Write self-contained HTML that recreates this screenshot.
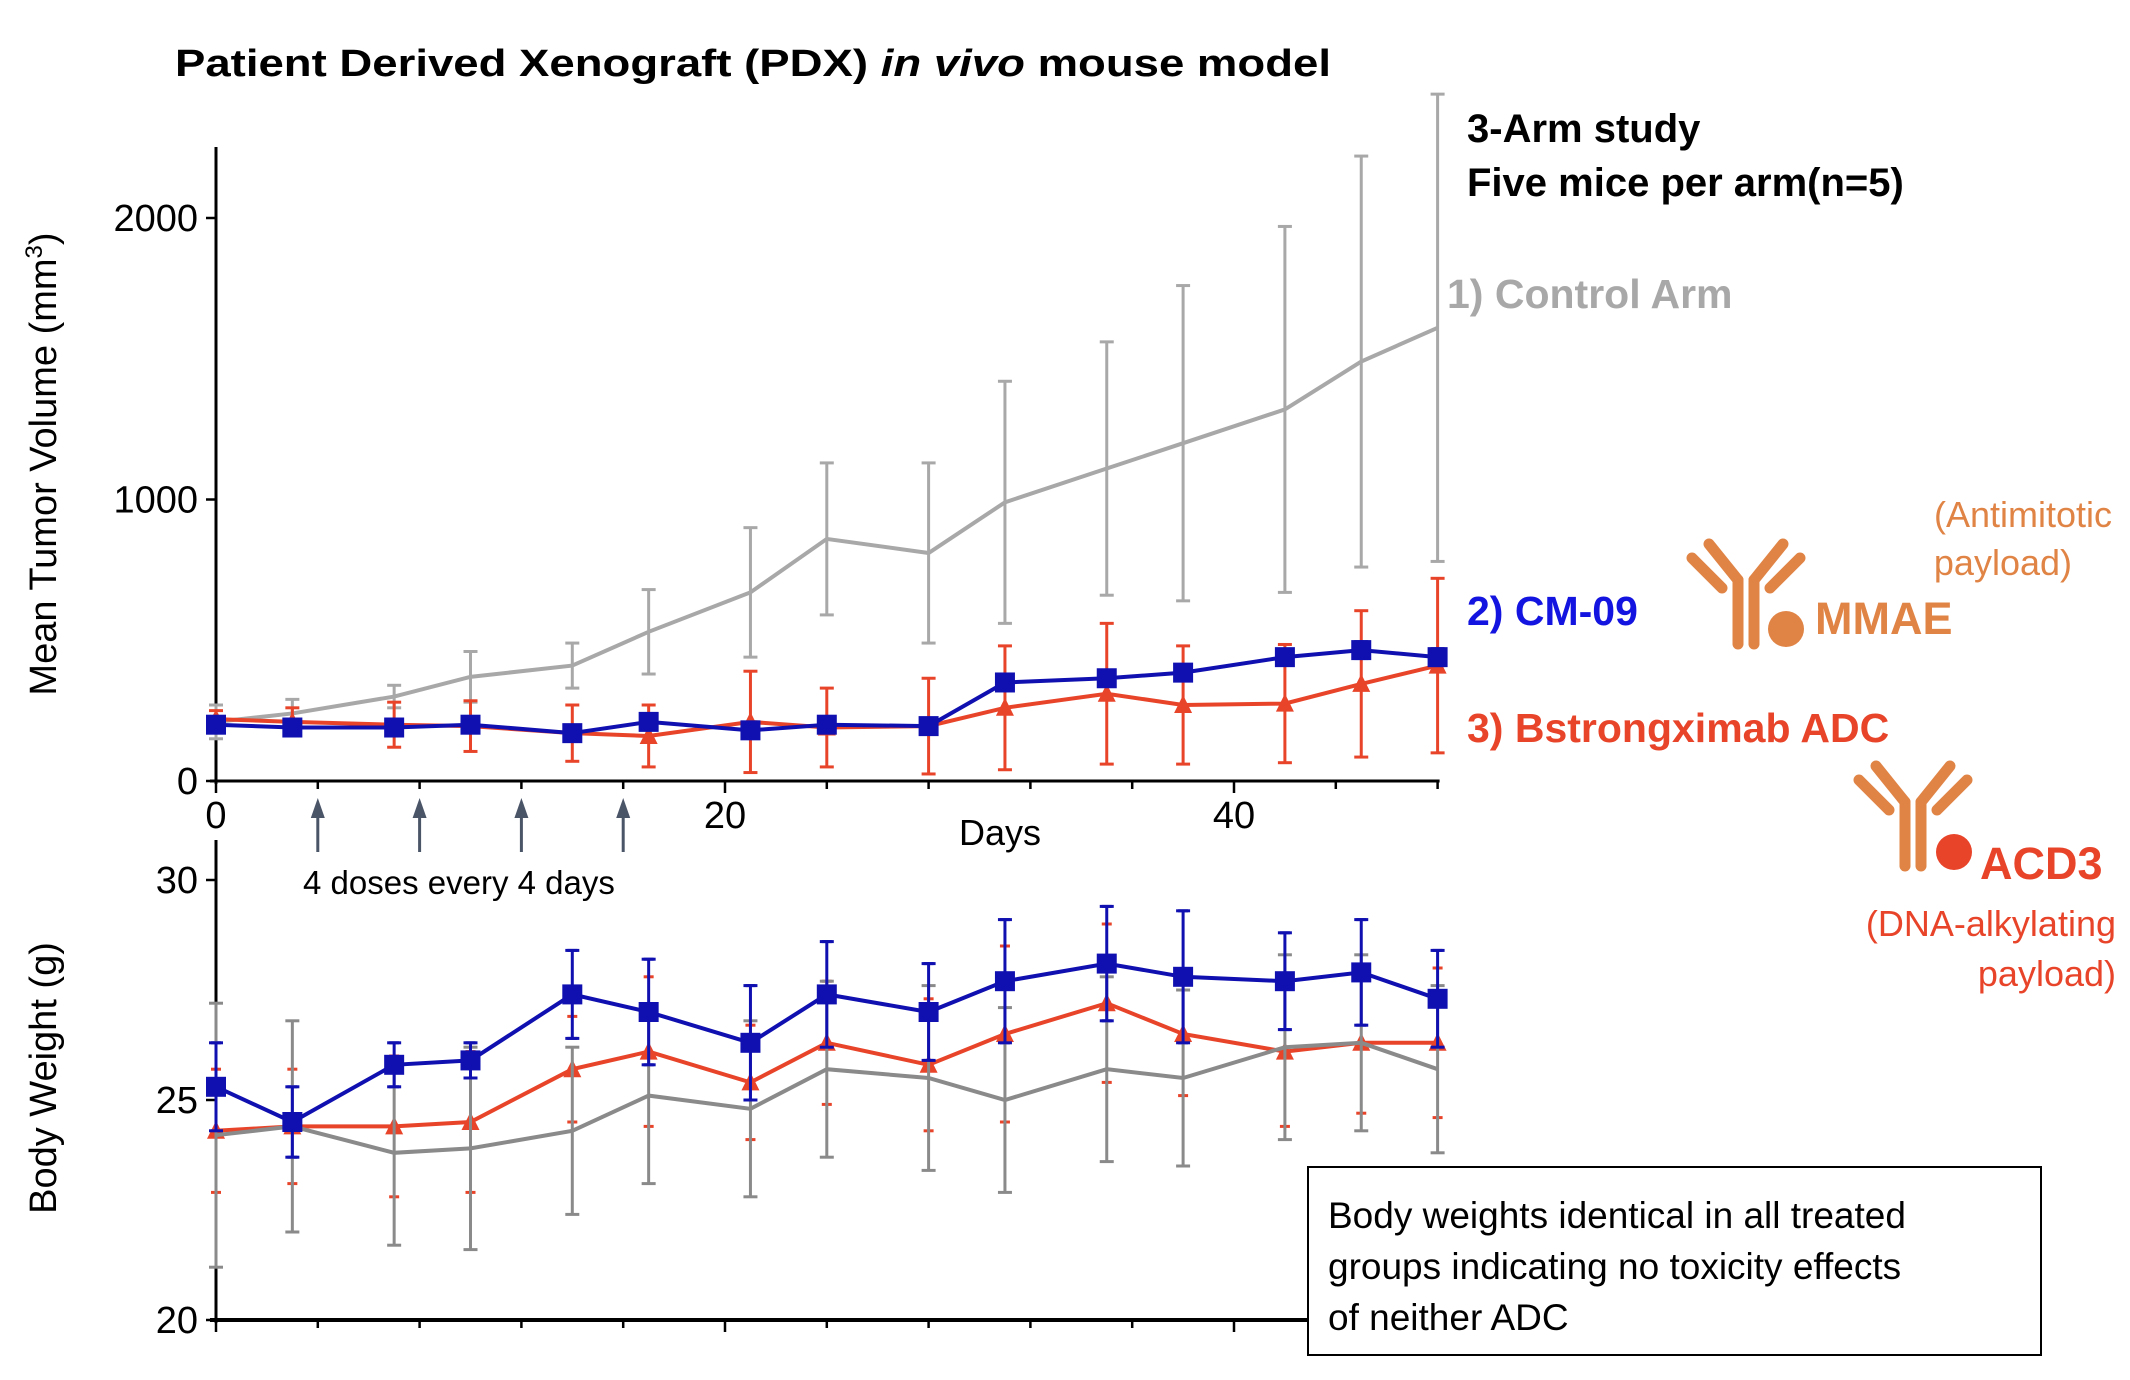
<!DOCTYPE html>
<html><head><meta charset="utf-8"><style>
html,body{margin:0;padding:0;background:#fff}
svg{display:block;font-family:"Liberation Sans",sans-serif}
</style></head><body>
<svg id="c" width="2130" height="1380" viewBox="0 0 2130 1380" xmlns="http://www.w3.org/2000/svg">
<text x="175" y="76" font-size="38" font-weight="bold" textLength="1156" lengthAdjust="spacingAndGlyphs">Patient Derived Xenograft (PDX) <tspan font-style="italic">in vivo</tspan> mouse model</text>
<text x="1467" y="142" font-size="40" font-weight="bold">3-Arm study</text>
<text x="1467" y="196" font-size="40" font-weight="bold">Five mice per arm(n=5)</text>
<text x="1447" y="308" font-size="41" font-weight="bold" fill="#a8a8a8">1) Control Arm</text>
<text x="1467" y="625" font-size="41" font-weight="bold" fill="#1414e0">2) CM-09</text>
<text x="1467" y="742" font-size="41" font-weight="bold" fill="#e8442a">3) Bstrongximab ADC</text>
<g stroke="#e08446" stroke-width="11" stroke-linecap="round" fill="none">
<line x1="1738" y1="580" x2="1738" y2="644"/><line x1="1754" y1="580" x2="1754" y2="644"/>
<line x1="1738" y1="580" x2="1709" y2="544"/><line x1="1722" y1="588" x2="1692" y2="558"/>
<line x1="1754" y1="580" x2="1783" y2="544"/><line x1="1770" y1="588" x2="1800" y2="558"/>
</g>
<circle cx="1786" cy="629" r="18" fill="#e08446"/>
<text x="1815" y="634" font-size="45" font-weight="bold" fill="#e08446">MMAE</text>
<text x="2112" y="527" font-size="36" fill="#e08446" text-anchor="end">(Antimitotic</text>
<text x="2072" y="575" font-size="36" fill="#e08446" text-anchor="end">payload)</text>
<g stroke="#e08446" stroke-width="11" stroke-linecap="round" fill="none" transform="translate(167,222)">
<line x1="1738" y1="580" x2="1738" y2="644"/><line x1="1754" y1="580" x2="1754" y2="644"/>
<line x1="1738" y1="580" x2="1709" y2="544"/><line x1="1722" y1="588" x2="1692" y2="558"/>
<line x1="1754" y1="580" x2="1783" y2="544"/><line x1="1770" y1="588" x2="1800" y2="558"/>
</g>
<circle cx="1954" cy="852" r="18" fill="#e8442a"/>
<text x="1980" y="879" font-size="45" font-weight="bold" fill="#e8442a">ACD3</text>
<text x="2116" y="936" font-size="36" fill="#e8442a" text-anchor="end">(DNA-alkylating</text>
<text x="2116" y="986" font-size="36" fill="#e8442a" text-anchor="end">payload)</text>
<rect x="1308" y="1167" width="733" height="188" fill="#fff" stroke="#000" stroke-width="2"/>
<text font-size="37"><tspan x="1328" y="1228">Body weights identical in all treated</tspan><tspan x="1328" y="1279">groups indicating no toxicity effects</tspan><tspan x="1328" y="1330">of neither ADC</tspan></text>
<text transform="translate(56,464) rotate(-90)" font-size="38" text-anchor="middle">Mean Tumor Volume (mm<tspan font-size="24" dy="-14">3</tspan><tspan dy="14">)</tspan></text>
<text transform="translate(56,1078) rotate(-90)" font-size="38" text-anchor="middle">Body Weight (g)</text>
<text x="1000" y="845" font-size="36" text-anchor="middle">Days</text>
<text x="303" y="894" font-size="33">4 doses every 4 days</text>
<g id="plot"></g>
</svg>
<script>
const days=[0,3,7,10,14,17,21,24,28,31,35,38,42,45,48];
const doseDays=[4,8,12,16];
const tumorTicks=[0,1000,2000];
const xTickLabels=[0,20,40];
const weightTicks=[20,25,30];
const tumorControl=[210,240,300,370,410,530,670,860,810,990,1110,1200,1320,1490,1610];
const tumorControlErr=[60,50,40,90,80,150,230,270,320,430,450,560,650,730,830];
const tumorCM09=[200,190,190,200,170,210,180,200,195,350,365,385,440,465,440];
const tumorCM09Err=[20,20,20,20,20,25,20,20,20,25,25,25,25,30,30];
const tumorBstr=[220,210,200,195,170,160,210,190,195,260,310,270,275,345,410];
const tumorBstrErr=[30,50,80,90,100,110,180,140,170,220,250,210,210,260,310];
const wCM09=[25.3,24.5,25.8,25.9,27.4,27.0,26.3,27.4,27.0,27.7,28.1,27.8,27.7,27.9,27.3];
const wCM09Err=[1.0,0.8,0.5,0.4,1.0,1.2,1.3,1.2,1.1,1.4,1.3,1.5,1.1,1.2,1.1];
const wBstr=[24.3,24.4,24.4,24.5,25.7,26.1,25.4,26.3,25.8,26.5,27.2,26.5,26.1,26.3,26.3];
const wBstrErr=[1.4,1.3,1.6,1.6,1.2,1.7,1.3,1.4,1.5,2.0,1.8,1.4,1.7,1.6,1.7];
const wControl=[24.2,24.4,23.8,23.9,24.3,25.1,24.8,25.7,25.5,25.0,25.7,25.5,26.2,26.3,25.7];
const wControlErr=[3.0,2.4,2.1,2.3,1.9,2.0,2.0,2.0,2.1,2.1,2.1,2.0,2.1,2.0,1.9];

const NS='http://www.w3.org/2000/svg';
const plot=document.getElementById('plot');
const X=d=>216+d*25.45;
const YT=v=>781-v*0.2815;
const YW=v=>1320-(v-20)*44;
function mk(tag,attrs,parent){const e=document.createElementNS(NS,tag);for(const k in attrs)e.setAttribute(k,attrs[k]);(parent||plot).appendChild(e);return e;}

let g=mk('g',{});


mk('line',{x1:X(0),y1:147,x2:X(0),y2:YT(0)+3,stroke:'#000','stroke-width':3},g);
mk('line',{x1:X(0)-6,y1:YT(0),x2:X(48)+2,y2:YT(0),stroke:'#000','stroke-width':3},g);
for(let d=0;d<=48;d+=4){mk('line',{x1:X(d),y1:YT(0),x2:X(d),y2:YT(0)+(d%20==0?12:8),stroke:'#000','stroke-width':2.5},g);}
tumorTicks.forEach(v=>{mk('line',{x1:X(0)-10,y1:YT(v),x2:X(0),y2:YT(v),stroke:'#000','stroke-width':2.5},g);
 const t=mk('text',{x:X(0)-18,y:YT(v)+13,'font-size':38,'text-anchor':'end'},g);t.textContent=v;
 
 });
xTickLabels.forEach(v=>{const t=mk('text',{x:X(v),y:YT(0)+47,'font-size':38,'text-anchor':'middle'},g);t.textContent=v;
 
 });
doseDays.forEach(d=>{const a=mk('g',{},g);
 
 
 mk('line',{x1:X(d),y1:808,x2:X(d),y2:852,stroke:'#4a5568','stroke-width':3},a);
 mk('polygon',{points:`${X(d)-7},818 ${X(d)+7},818 ${X(d)},798`,fill:'#4a5568'},a);});

let g2=mk('g',{});


mk('line',{x1:X(0),y1:840,x2:X(0),y2:YW(20)+3,stroke:'#000','stroke-width':3},g2);
mk('line',{x1:X(0)-6,y1:YW(20),x2:1308,y2:YW(20),stroke:'#000','stroke-width':4},g2);
for(let d=0;d<=40;d+=4){mk('line',{x1:X(d),y1:YW(20),x2:X(d),y2:YW(20)+(d%20==0?12:8),stroke:'#000','stroke-width':2.5},g2);}
weightTicks.forEach(v=>{mk('line',{x1:X(0)-10,y1:YW(v),x2:X(0),y2:YW(v),stroke:'#000','stroke-width':2.5},g2);
 const t=mk('text',{x:X(0)-18,y:YW(v)+13,'font-size':38,'text-anchor':'end'},g2);t.textContent=v;
 
 });

function series(name,vals,errs,Y,color,marker,lw,dashedErr){
 const s=mk('g',{});
 
 
 vals.forEach((v,i)=>{const x=X(days[i]);const t=Y(v+errs[i]),b=Y(v-errs[i]);
  if(dashedErr){mk('line',{x1:x-5,y1:t,x2:x+5,y2:t,stroke:color,'stroke-width':3},s);mk('line',{x1:x-5,y1:b,x2:x+5,y2:b,stroke:color,'stroke-width':3},s);}
  else{mk('line',{x1:x,y1:t,x2:x,y2:b,stroke:color,'stroke-width':3},s);
  mk('line',{x1:x-7,y1:t,x2:x+7,y2:t,stroke:color,'stroke-width':3},s);
  mk('line',{x1:x-7,y1:b,x2:x+7,y2:b,stroke:color,'stroke-width':3},s);}});
 if(lw>0)mk('polyline',{points:vals.map((v,i)=>X(days[i])+','+Y(v)).join(' '),fill:'none',stroke:color,'stroke-width':lw},s);
 vals.forEach((v,i)=>{const x=X(days[i]),y=Y(v);
  if(marker==='sq')mk('rect',{x:x-10,y:y-10,width:20,height:20,fill:color},s);
  else if(marker==='tri')mk('polygon',{points:`${x-9},${y+8} ${x+9},${y+8} ${x},${y-10}`,fill:color},s);});
}
series('tumor-control-series',tumorControl,tumorControlErr,YT,'#a8a8a8','none',4,false);
series('tumor-bstrongximab-series',tumorBstr,tumorBstrErr,YT,'#e8442a','tri',4,false);
series('tumor-cm09-series',tumorCM09,tumorCM09Err,YT,'#1010b0','sq',4,false);
series('weight-cm09-errors-low',wCM09,wCM09Err,YW,'#1010b0','none',0,true);
series('weight-bstrongximab-series',wBstr,wBstrErr,YW,'#e8442a','tri',4,true);
series('weight-control-series',wControl,wControlErr,YW,'#8a8a8a','none',4,false);
series('weight-cm09-series',wCM09,wCM09Err,YW,'#1010b0','sq',4,false);
</script>
</body></html>
